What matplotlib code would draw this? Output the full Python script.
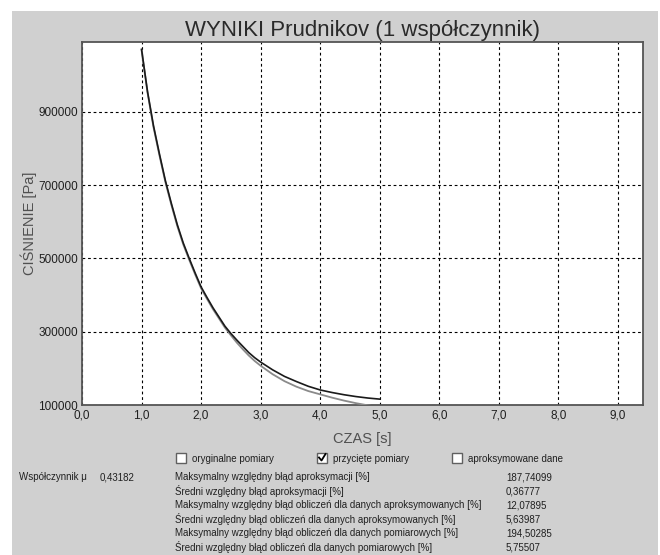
import matplotlib
matplotlib.use("Agg")
import matplotlib.pyplot as plt
from matplotlib.patches import Rectangle
from matplotlib.lines import Line2D
from matplotlib.ticker import FuncFormatter

plt.rcParams["font.family"] = ["Liberation Sans", "DejaVu Sans"]

# czas [s] -> cisnienie [Pa]
czas = [1.0, 1.1, 1.2, 1.3, 1.4, 1.5, 1.6, 1.7, 1.8, 1.9, 2.0, 2.1, 2.2, 2.3,
        2.4, 2.5, 2.6, 2.7, 2.8, 2.9, 3.0, 3.2, 3.4, 3.6, 3.8, 4.0, 4.2, 4.4,
        4.6, 4.8, 5.0]
cisn_obl = [1070000, 955000, 862000, 785000, 712000, 650000, 592000, 542000,
            500000, 460000, 422000, 393000, 365000, 340000, 315000, 295000,
            277000, 260000, 243000, 229000, 217000, 196000, 178000, 164000,
            151000, 141000, 134000, 128000, 123000, 119000, 116000]
cisn_pom = [1068000, 952000, 858000, 781000, 708000, 646000, 588000, 538000,
            496000, 456000, 418000, 389000, 361000, 336000, 311000, 290000,
            270000, 252000, 235000, 220000, 207000, 184000, 165000, 150000,
            138000, 129000, 120000, 112000, 105000, 99000, 94000]

yticks = [100000, 300000, 500000, 700000, 900000]
xticks = [0, 1, 2, 3, 4, 5, 6, 7, 8, 9]

checkboxes = ["oryginalne pomiary", "przycięte pomiary", "aproksymowane dane"]
checked = [False, True, False]

wsp_label = "Współczynnik μ"
wsp_value = "0,43182"
err_labels = [
    "Maksymalny względny błąd aproksymacji [%]",
    "Średni względny błąd aproksymacji [%]",
    "Maksymalny względny błąd obliczeń dla danych aproksymowanych [%]",
    "Średni względny błąd obliczeń dla danych aproksymowanych [%]",
    "Maksymalny względny błąd obliczeń dla danych pomiarowych [%]",
    "Średni względny błąd obliczeń dla danych pomiarowych [%]",
]
err_values = ["187,74099", "0,36777", "12,07895", "5,63987", "194,50285", "5,75507"]

W, H = 660, 555
BG = "#d0d0d0"

fig = plt.figure(figsize=(W / 100, H / 100), dpi=100, facecolor="white")

def fx(px):
    return px / W

def fy(py):
    return 1 - py / H

# szare tlo okna
fig.patches.append(Rectangle((fx(12), 0), fx(658) - fx(12), fy(11),
                             transform=fig.transFigure, facecolor=BG,
                             edgecolor="none", zorder=-10))

ax = fig.add_axes([fx(82), fy(405), fx(643) - fx(82), (405 - 42) / H])
ax.set_zorder(1)
ax.set_facecolor("white")

ax.plot(czas, cisn_pom, color="#8a8a8a", lw=1.3, zorder=3)
ax.plot(czas, cisn_obl, color="#1a1a1a", lw=1.2, zorder=4)

ax.set_xlim(0, 9.42)
ax.set_ylim(100000, 1090000)
ax.set_xticks(xticks)
ax.set_yticks(yticks)
ax.xaxis.set_major_formatter(FuncFormatter(lambda v, p: ("%.1f" % v).replace(".", ",")))
ax.yaxis.set_major_formatter(FuncFormatter(lambda v, p: "%d" % v))
ax.tick_params(length=0, labelsize=8.5, colors="#202020", pad=3)
ax.grid(True, color="black", linestyle=(0, (2.5, 2.5)), lw=0.8)
for s in ax.spines.values():
    s.set_color("#555555")
    s.set_linewidth(1.3)

ax.set_title("WYNIKI Prudnikov (1 współczynnik)", fontsize=16, color="#2a2a2a", pad=4)
ax.set_xlabel("CZAS [s]", fontsize=10.5, color="#505050", labelpad=8)
ax.set_ylabel("CIŚNIENIE [Pa]", fontsize=10.5, color="#505050", labelpad=1)

# pola wyboru
box_x = [176, 317, 452]
for bx, lab, chk in zip(box_x, checkboxes, checked):
    fig.patches.append(Rectangle((fx(bx), fy(463)), 10 / W, 10 / H,
                                 transform=fig.transFigure, facecolor="white",
                                 edgecolor="#606060", lw=1.0, zorder=2))
    if chk:
        fig.lines.append(Line2D([fx(bx + 2), fx(bx + 4.5), fx(bx + 8.5)],
                                [fy(457.5), fy(460.5), fy(454)],
                                transform=fig.transFigure, color="black",
                                lw=1.3, zorder=3))
    fig.text(fx(bx + 16), fy(458), lab, fontsize=7, color="#202020",
             va="center_baseline", ha="left")

# wyniki
fig.text(fx(19), fy(476), wsp_label, fontsize=7, color="#202020", va="center_baseline")
fig.text(fx(100), fy(476), wsp_value, fontsize=7, color="#202020", va="center_baseline")
row_y = [476, 490, 504, 518, 532, 546]
for yy, lab, val in zip(row_y, err_labels, err_values):
    fig.text(fx(175), fy(yy), lab, fontsize=7, color="#202020", va="center_baseline")
    fig.text(fx(506), fy(yy), val, fontsize=7, color="#202020", va="center_baseline")

fig.savefig("out.png", dpi=100, facecolor="white")
